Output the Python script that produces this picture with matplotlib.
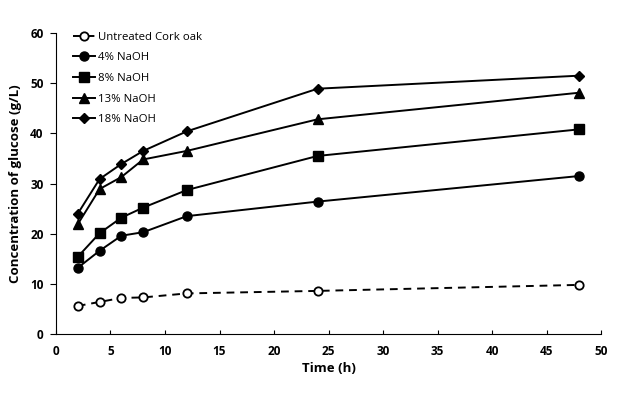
import matplotlib
matplotlib.use("Agg")
import matplotlib.pyplot as plt

time_h = [2, 4, 6, 8, 12, 24, 48]
untreated = [5.6, 6.4, 7.2, 7.3, 8.1, 8.6, 9.8]
naoh_4 = [13.2, 16.6, 19.6, 20.3, 23.5, 26.4, 31.5]
naoh_8 = [15.4, 20.1, 23.2, 25.2, 28.7, 35.5, 40.8]
naoh_13 = [21.9, 28.9, 31.3, 34.8, 36.5, 42.8, 48.1]
naoh_18 = [24.0, 30.9, 33.9, 36.5, 40.4, 48.9, 51.5]
labels = ["Untreated Cork oak", "4% NaOH", "8% NaOH", "13% NaOH", "18% NaOH"]

plt.rcParams['font.family'] = ['Open Sans', 'DejaVu Sans']

fig = plt.figure(figsize=(6.32, 3.93), dpi=100)
ax = fig.add_axes([0.0886, 0.150, 0.8624, 0.766])

ax.plot(time_h, untreated, '--', color='black', lw=1.4, marker='o', ms=6,
        mfc='white', mec='black', mew=1.3, dashes=(4, 3), label=labels[0])
ax.plot(time_h, naoh_4, '-', color='black', lw=1.4, marker='o', ms=6.5, label=labels[1])
ax.plot(time_h, naoh_8, '-', color='black', lw=1.4, marker='s', ms=6.5, label=labels[2])
ax.plot(time_h, naoh_13, '-', color='black', lw=1.4, marker='^', ms=6.5, label=labels[3])
ax.plot(time_h, naoh_18, '-', color='black', lw=1.4, marker='D', ms=5, label=labels[4])

ax.set_xlim(0, 50)
ax.set_ylim(0, 60)
ax.set_xticks(range(0, 51, 5))
ax.set_yticks(range(0, 61, 10))
ax.spines['top'].set_visible(False)
ax.spines['right'].set_visible(False)
ax.tick_params(axis='x', direction='in', length=3, labelsize=8.5, pad=8)
ax.tick_params(axis='y', direction='out', length=4, labelsize=8.5, pad=5)
for lab in ax.get_xticklabels() + ax.get_yticklabels():
    lab.set_fontweight('bold')

ax.set_xlabel("Time (h)", fontsize=9.5, fontweight='bold', labelpad=3)
ax.set_ylabel("Concentration of glucose (g/L)", fontsize=9.5, fontweight='bold', labelpad=6)

leg = ax.legend(loc='upper left', bbox_to_anchor=(0.022, 1.02), frameon=False,
                fontsize=8.2, handlelength=2.0, handletextpad=0.2, labelspacing=0.85,
                borderaxespad=0)

fig.savefig("out.png", dpi=100)
